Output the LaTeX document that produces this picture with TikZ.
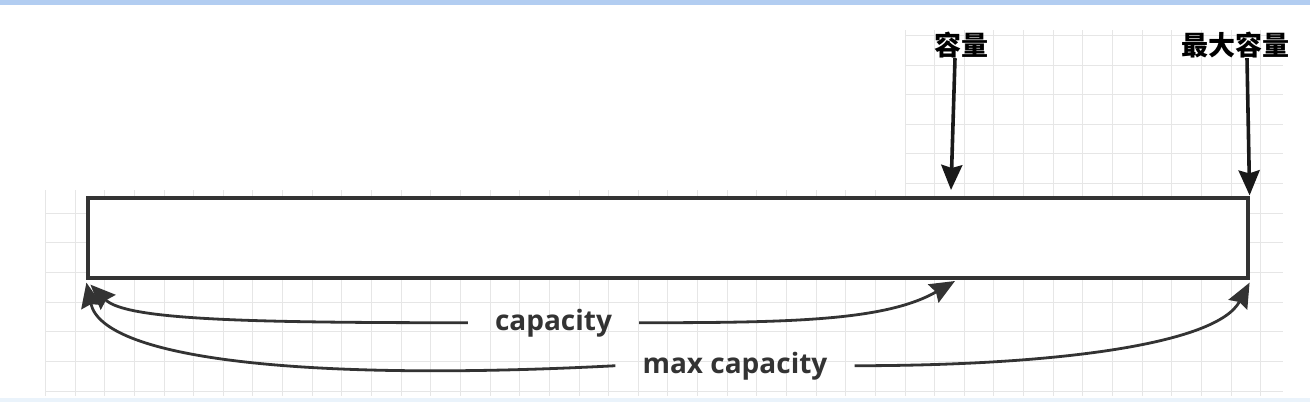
\documentclass[tikz,border=0pt]{standalone}
\usepackage{fontspec}
\setmainfont{Open Sans}
\newfontfamily\cjk{Noto Sans CJK SC}
\usetikzlibrary{arrows.meta,positioning}
\definecolor{edgegray}{HTML}{333333}
\definecolor{gridgray}{HTML}{E6E6E6}
\definecolor{topblue}{HTML}{B2CDF1}
\definecolor{bottomblue}{HTML}{EAF3FB}
\tikzstyle{buffer}=[draw=edgegray,line width=3.2pt,fill=white,minimum width=1160pt,minimum height=80pt,inner sep=0pt]
\tikzstyle{tag}=[font=\cjk\bfseries\fontsize{27}{30}\selectfont,inner sep=0pt]
\tikzstyle{span label}=[font=\bfseries\fontsize{28}{30}\selectfont,text=edgegray,inner xsep=27pt,inner ysep=0pt]
\tikzstyle{pointer}=[draw=black!90,line width=3.6pt,-{Stealth[length=25pt,width=21pt,inset=3pt]}]
\tikzstyle{span edge}=[draw=edgegray,line width=2.8pt,-{Stealth[length=25pt,width=21pt,inset=3pt]}]
\tikzstyle{gridline}=[draw=gridgray,line width=1pt]

\begin{document}
\begin{tikzpicture}[x=1pt,y=1pt]
        \useasboundingbox[fill=white] (0,0) rectangle (1310,-402);
        \fill[topblue] (0,0) rectangle (1310,-5);
        \fill[bottomblue] (0,-398) rectangle (1310,-402);
        % background grid
        \begin{scope}
          \clip (45,-190) -| (905,-30) -| (1283,-396) -| cycle;
          \foreach \i in {0,...,41}
            \draw[gridline] (45.5+29.64*\i,-30) -- (45.5+29.64*\i,-396);
          \foreach \j in {0,...,12}
            \draw[gridline] (45,-35.4-29.64*\j) -- (1283,-35.4-29.64*\j);
        \end{scope}
        \node[buffer] (buf) at (668,-238) {};
        \node[tag] (capTag) at (961.5,-45) {容量};
        \node[tag] (maxTag) at (1235,-45) {最大容量};
        \node[span label,anchor=base] (cap) at (553.5,-330) {capacity};
        \node[span label,anchor=base] (maxcap) at (735,-373) {max capacity};
        \coordinate (capTop) at (951,-190);
        \coordinate (maxTop) at ([yshift=1pt]buf.north east);
        \coordinate (capL) at ([shift={(4pt,-5pt)}]buf.south west);
        \coordinate (maxL) at ([yshift=-3pt]buf.south west);
        \coordinate (capR) at (955,-281);
        \coordinate (maxR) at ([yshift=-3pt]buf.south east);
        \draw[pointer] ([xshift=-6.5pt]capTag.south) to (capTop);
        \draw[pointer] ([xshift=12pt]maxTag.south) to (maxTop);
        \draw[span edge] (cap.west) to[out=180,in=-45,out distance=220pt,in distance=50pt] (capL);
        \draw[span edge] (cap.east) to[out=0,in=-150,out distance=150pt,in distance=80pt] (capR);
        \draw[span edge] (maxcap.west) to[out=183,in=-78,out distance=300pt,in distance=80pt] (maxL);
        \draw[span edge] (maxcap.east) to[out=0,in=-118,out distance=200pt,in distance=70pt] (maxR);
      \end{tikzpicture}
\end{document}
